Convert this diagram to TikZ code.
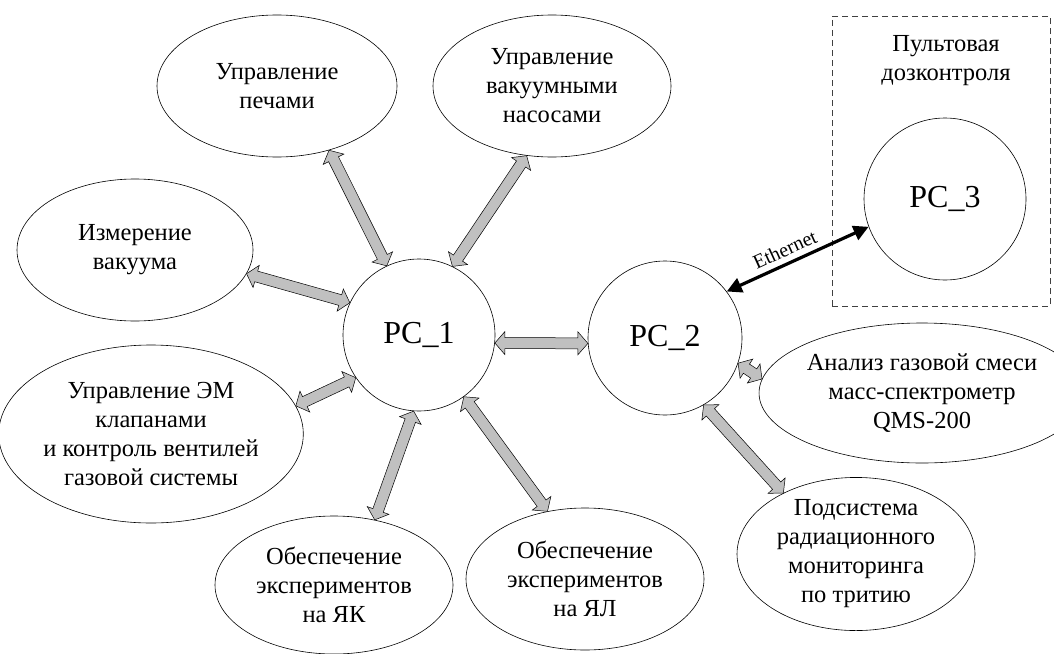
\documentclass[tikz,border=0pt]{standalone}
\usepackage{fontspec}
\setmainfont{Liberation Serif}
\usetikzlibrary{calc,arrows.meta,shapes.geometric}
\definecolor{arrowgray}{HTML}{C0C0C0}
\newcommand\dblblock[2]{%
  \coordinate (ha) at ($(#1)!10pt!(#2)$);
  \coordinate (hb) at ($(#2)!10pt!(#1)$);
  \draw[blockarrow] (#1) -- ($(ha)!11.5pt!-90:(#2)$) -- ($(ha)!5.5pt!-90:(#2)$)
    -- ($(hb)!5.5pt!90:(#1)$) -- ($(hb)!11.5pt!90:(#1)$) -- (#2)
    -- ($(hb)!11.5pt!-90:(#1)$) -- ($(hb)!5.5pt!-90:(#1)$)
    -- ($(ha)!5.5pt!90:(#2)$) -- ($(ha)!11.5pt!90:(#2)$) -- cycle;
}
\begin{document}
\begin{tikzpicture}[x=1pt,y=-1pt,
  ell/.style={ellipse, draw, line width=0.6pt, inner sep=0pt, align=center,
    font=\fontsize{24.5}{29}\selectfont},
  pc/.style={circle, draw, line width=0.6pt, inner sep=0pt,
    font=\fontsize{32}{36}\selectfont},
  blockarrow/.style={draw=black, fill=arrowgray, line width=0.5pt, line join=miter},
  eth/.style={line width=3.2pt,
    {Triangle[length=15pt,width=15pt]}-{Triangle[length=15pt,width=15pt]}},
  dashbox/.style={draw=black!75, dash pattern=on 6pt off 4pt, line width=0.8pt,
    inner sep=0pt},
  plain/.style={align=center, font=\fontsize{24.5}{29}\selectfont}
]
\useasboundingbox (0,0) rectangle (1054,653);

\node[ell, minimum width=240, minimum height=142] (pech) at (277,86) {Управление\\печами};
\node[ell, minimum width=238, minimum height=142] (nasos) at (552,86) {Управление\\вакуумными\\насосами};
\node[ell, minimum width=236, minimum height=142] (izm) at (135,250) {Измерение\\вакуума};
\node[ell, minimum width=286, minimum height=178] (em) at (151,434) {Управление ЭМ\\клапанами\\и контроль вентилей\\газовой системы};
\node[ell, minimum width=238, minimum height=138] (yak) at (334,585) {Обеспечение\\экспериментов\\на ЯК};
\node[ell, minimum width=238, minimum height=142] (yal) at (585,579) {Обеспечение\\экспериментов\\на ЯЛ};
\node[ell, minimum width=262, minimum height=140] (anal) at (922,393) {Анализ газовой смеси\\масс-спектрометр\\QMS-200};
\node[ell, minimum width=238, minimum height=142] (pods) at (856,554) {Подсистема\\радиационного\\мониторинга\\по тритию};

\node[dashbox, minimum width=218, minimum height=290] (box) at (941,161) {};
\node[plain] (pult) at (946,61) {Пультовая\\дозконтроля};

\node[pc, minimum size=152] (pc1) at (419,335) {PC\_1};
\node[pc, minimum size=154] (pc2) at (665,338) {PC\_2};
\node[pc, minimum size=162] (pc3) at (945,199) {PC\_3};

\dblblock{pc1.115}{pech.-51}
\dblblock{pc1.64}{nasos.250}
\dblblock{pc1.155}{izm.-12}
\dblblock{pc1.214}{em.11}
\dblblock{pc1.-94.5}{yak.58}
\dblblock{pc1.-54}{yal.119}
\dblblock{pc1.-6}{pc2.-176}
\dblblock{pc2.-19}{anal.175}
\dblblock{pc2.-60}{pods.140}

\draw[eth] (pc2.37.6) -- node[pos=0.45, above=2pt, sloped, font=\fontsize{20}{22}\selectfont] (ethl) {Ethernet} (pc3.200.5);
\end{tikzpicture}
\end{document}
